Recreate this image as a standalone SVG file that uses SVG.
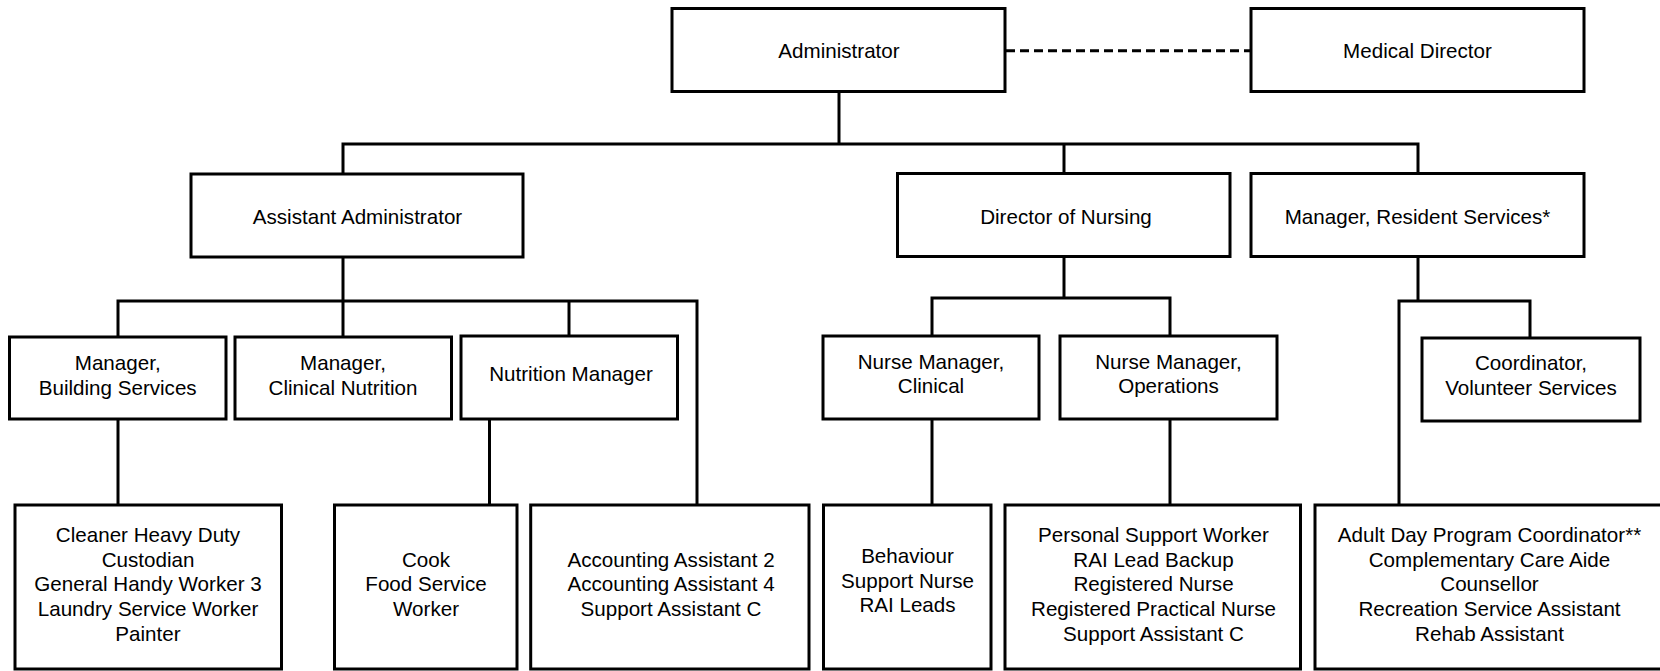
<svg xmlns="http://www.w3.org/2000/svg" width="1660" height="671" viewBox="0 0 1660 671">
<style>
.b{fill:#fff;stroke:#000;stroke-width:3}
.c{fill:none;stroke:#000;stroke-width:3;stroke-linejoin:miter}
.d{fill:none;stroke:#000;stroke-width:3;stroke-dasharray:9 5}
text{font-family:"Liberation Sans",Arial,sans-serif;font-size:20.6px;text-anchor:middle;fill:#000}
</style>
<rect width="1660" height="671" fill="#fff"/>
<g id="connectors">
<path class="c" d="M839,92 V144"/>
<path class="c" d="M343,174 V144 H1418 V174"/>
<path class="c" d="M1064,144 V174"/>
<path class="d" d="M1006,50.7 H1251"/>
<path class="c" d="M343,257 V301"/>
<path class="c" d="M118,337 V301 H697 V505"/>
<path class="c" d="M343,301 V337"/>
<path class="c" d="M569,301 V337"/>
<path class="c" d="M118,419 V505"/>
<path class="c" d="M489.5,419 V505"/>
<path class="c" d="M1064,257 V298"/>
<path class="c" d="M932,336 V298 H1170 V336"/>
<path class="c" d="M932,419 V505"/>
<path class="c" d="M1170,419 V505"/>
<path class="c" d="M1418,257 V301"/>
<path class="c" d="M1399,505 V301 H1530 V338"/>
</g>
<g id="administrator"><rect class="b" x="672" y="8.5" width="333" height="83"/><text x="839" y="58.3">Administrator</text></g>
<g id="medical-director"><rect class="b" x="1251" y="8.5" width="333" height="83"/><text x="1417.5" y="58.3">Medical Director</text></g>
<g id="assistant-administrator"><rect class="b" x="191" y="174" width="332" height="83"/><text x="357.5" y="224">Assistant Administrator</text></g>
<g id="director-of-nursing"><rect class="b" x="897.5" y="173.5" width="332.5" height="83"/><text x="1066" y="223.5">Director of Nursing</text></g>
<g id="manager-resident-services"><rect class="b" x="1251" y="173.5" width="333" height="83"/><text x="1417.5" y="223.5">Manager, Resident Services*</text></g>
<g id="manager-building-services"><rect class="b" x="9.5" y="337" width="216.5" height="82"/><text x="117.7" y="370">Manager,</text><text x="117.7" y="394.5">Building Services</text></g>
<g id="manager-clinical-nutrition"><rect class="b" x="235" y="337" width="216.5" height="82"/><text x="343" y="370">Manager,</text><text x="343" y="394.5">Clinical Nutrition</text></g>
<g id="nutrition-manager"><rect class="b" x="461" y="336" width="216.5" height="83"/><text x="571" y="381">Nutrition Manager</text></g>
<g id="nurse-manager-clinical"><rect class="b" x="823" y="336" width="216" height="83"/><text x="931" y="368.5">Nurse Manager,</text><text x="931" y="393">Clinical</text></g>
<g id="nurse-manager-operations"><rect class="b" x="1060" y="336" width="217" height="83"/><text x="1168.5" y="368.5">Nurse Manager,</text><text x="1168.5" y="393">Operations</text></g>
<g id="coordinator-volunteer-services"><rect class="b" x="1422" y="338" width="218" height="83"/><text x="1531" y="369.5">Coordinator,</text><text x="1531" y="394.5">Volunteer Services</text></g>
<g id="building-staff"><rect class="b" x="15" y="505" width="266.5" height="164"/>
<text x="148" y="542">Cleaner Heavy Duty</text><text x="148" y="566.7">Custodian</text><text x="148" y="591.4">General Handy Worker 3</text><text x="148" y="616.1">Laundry Service Worker</text><text x="148" y="640.8">Painter</text></g>
<g id="nutrition-staff"><rect class="b" x="334.5" y="505" width="182.5" height="164"/>
<text x="426" y="566.7">Cook</text><text x="426" y="591.4">Food Service</text><text x="426" y="616.1">Worker</text></g>
<g id="admin-staff"><rect class="b" x="530.7" y="505" width="278.3" height="164"/>
<text x="671" y="566.7">Accounting Assistant 2</text><text x="671" y="591.4">Accounting Assistant 4</text><text x="671" y="616.1">Support Assistant C</text></g>
<g id="clinical-staff"><rect class="b" x="823.5" y="505" width="167.5" height="164"/>
<text x="907.5" y="563">Behaviour</text><text x="907.5" y="587.7">Support Nurse</text><text x="907.5" y="612.4">RAI Leads</text></g>
<g id="operations-staff"><rect class="b" x="1005" y="505" width="295.5" height="164"/>
<text x="1153.5" y="542">Personal Support Worker</text><text x="1153.5" y="566.7">RAI Lead Backup</text><text x="1153.5" y="591.4">Registered Nurse</text><text x="1153.5" y="616.1">Registered Practical Nurse</text><text x="1153.5" y="640.8">Support Assistant C</text></g>
<g id="resident-services-staff"><rect class="b" x="1315" y="505" width="349" height="164"/>
<text x="1489.5" y="542">Adult Day Program Coordinator**</text><text x="1489.5" y="566.7">Complementary Care Aide</text><text x="1489.5" y="591.4">Counsellor</text><text x="1489.5" y="616.1">Recreation Service Assistant</text><text x="1489.5" y="640.8">Rehab Assistant</text></g>
</svg>
